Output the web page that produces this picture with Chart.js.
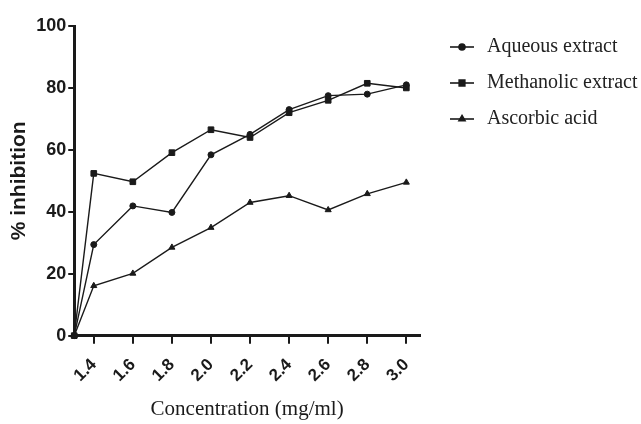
<!DOCTYPE html>
<html>
<head>
<meta charset="utf-8">
<script src="https://cdn.jsdelivr.net/npm/chart.js@4/dist/chart.umd.min.js"></script>
<style>
  html, body { margin: 0; padding: 0; background: #fff; }
  #wrap { width: 641px; height: 424px; }
</style>
</head>
<body>
<div id="wrap"><canvas id="chart"></canvas></div>
<script>
// data
const xValues = [1.3, 1.4, 1.6, 1.8, 2.0, 2.2, 2.4, 2.6, 2.8, 3.0];
const aqueous = [0, 29.4, 41.9, 39.8, 58.4, 65, 73, 77.5, 78, 81];
const methanolic = [0, 52.4, 49.7, 59.1, 66.5, 64, 72, 76, 81.5, 80];
const ascorbic = [0, 16.1, 20.1, 28.5, 34.9, 43, 45.2, 40.6, 45.8, 49.5];
const xTicks = [1.4, 1.6, 1.8, 2.0, 2.2, 2.4, 2.6, 2.8, 3.0];
const yTicks = [0, 20, 40, 60, 80, 100];
const seriesNames = ['Aqueous extract', 'Methanolic extract', 'Ascorbic acid'];

const ink = '#1a1a1a';

function series(label, values, style, radius) {
  return {
    label: label,
    data: xValues.map((x, i) => ({ x: x, y: values[i] })),
    borderColor: ink,
    backgroundColor: ink,
    borderWidth: 1.4,
    pointStyle: style,
    pointRadius: radius,
    pointBorderWidth: 1,
    tension: 0,
    clip: false,
  };
}

// legend drawn at the right: short line with the marker, then the name
const sideLegend = {
  id: 'sideLegend',
  afterDraw(chart) {
    const ctx = chart.ctx;
    ctx.save();
    chart.data.datasets.forEach((ds, i) => {
      const y = 47 + i * 36;
      ctx.strokeStyle = ink;
      ctx.lineWidth = 1.6;
      ctx.beginPath();
      ctx.moveTo(450, y);
      ctx.lineTo(474, y);
      ctx.stroke();
      ctx.fillStyle = ink;
      Chart.helpers.drawPoint(ctx, {
        pointStyle: ds.pointStyle, rotation: 0,
        radius: ds.pointRadius, borderWidth: 1
      }, 462, y);
      ctx.font = '20px "Liberation Serif", serif';
      ctx.textBaseline = 'middle';
      ctx.textAlign = 'left';
      ctx.fillStyle = '#222';
      ctx.fillText(ds.label, 487, y);
    });
    ctx.restore();
  }
};

new Chart(document.getElementById('chart'), {
  type: 'line',
  data: {
    datasets: [
      series(seriesNames[0], aqueous, 'circle', 3),
      series(seriesNames[1], methanolic, 'rect', 4),
      series(seriesNames[2], ascorbic, 'triangle', 3.5),
    ],
  },
  options: {
    responsive: true,
    maintainAspectRatio: false,
    animation: false,
    layout: { padding: { top: 26, right: 221, left: 7, bottom: 2 } },
    plugins: {
      legend: { display: false },
      tooltip: { enabled: false },
    },
    scales: {
      x: {
        type: 'linear',
        min: 1.3,
        max: 3.07,
        afterBuildTicks: (axis) => { axis.ticks = xTicks.map(v => ({ value: v })); },
        border: { color: ink, width: 3 },
        grid: { drawOnChartArea: false, drawTicks: true, tickLength: 8, color: ink, lineWidth: 2 },
        ticks: {
          color: ink,
          minRotation: 45,
          maxRotation: 45,
          padding: 11,
          font: { family: '"Liberation Sans", Arial, sans-serif', size: 17, weight: 'bold' },
          callback: (v) => Number(v).toFixed(1),
        },
        title: {
          display: true,
          text: 'Concentration (mg/ml)',
          color: ink,
          font: { family: '"Liberation Serif", serif', size: 21 },
          padding: { top: 0, bottom: 0 },
        },
      },
      y: {
        min: 0,
        max: 100,
        afterBuildTicks: (axis) => { axis.ticks = yTicks.map(v => ({ value: v })); },
        border: { color: ink, width: 3 },
        grid: { drawOnChartArea: false, drawTicks: true, tickLength: 6, color: ink, lineWidth: 2 },
        ticks: {
          color: ink,
          padding: 2,
          font: { family: '"Liberation Sans", Arial, sans-serif', size: 18, weight: 'bold' },
        },
        title: {
          display: true,
          text: '% inhibition',
          color: ink,
          font: { family: '"Liberation Sans", Arial, sans-serif', size: 21, weight: 'bold' },
          padding: { top: 0, bottom: 2 },
        },
      },
    },
  },
  plugins: [sideLegend],
});
</script>
</body>
</html>
